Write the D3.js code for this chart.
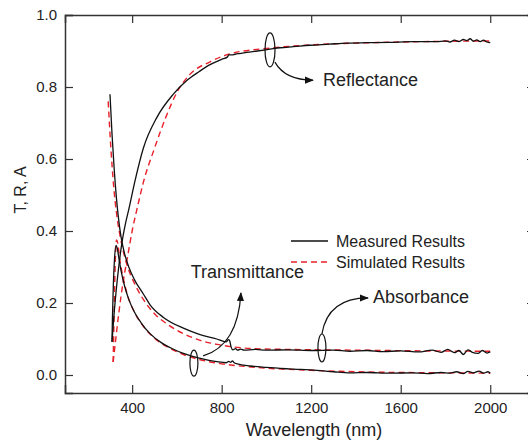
<!DOCTYPE html>
<html>
<head>
<meta charset="utf-8">
<script src="https://cdn.jsdelivr.net/npm/d3@7/dist/d3.min.js"></script>
<style>
  body { margin: 0; background: #fff; }
  text { font-family: "Liberation Sans", Arial, sans-serif; fill: #222; }
</style>
</head>
<body>
<script>
// wavelength (nm), value
var measR = [[310,0.092],[318,0.16],[328,0.23],[340,0.30],[355,0.37],[370,0.42],[385,0.46],[413,0.54],[450,0.63],[510,0.715],[584,0.78],[644,0.818],[700,0.843],[748,0.862],[800,0.877],[825,0.883],[832,0.889],[845,0.889],[860,0.891],[880,0.893],[912,0.896],[960,0.900],[1016,0.905],[1061,0.909],[1120,0.912],[1195,0.916],[1280,0.919],[1359,0.922],[1450,0.923],[1550,0.924],[1655,0.926],[1760,0.926],[1800,0.928],[1820,0.925],[1840,0.930],[1860,0.926],[1880,0.932],[1895,0.929],[1910,0.934],[1925,0.927],[1940,0.931],[1955,0.926],[1970,0.930],[1985,0.925],[2000,0.923]];
var measT = [[310,0.092],[312,0.16],[316,0.25],[321,0.32],[328,0.36],[334,0.35],[342,0.32],[352,0.285],[365,0.25],[385,0.21],[410,0.175],[440,0.145],[480,0.115],[530,0.09],[580,0.073],[629,0.06],[700,0.047],[778,0.037],[820,0.034],[832,0.038],[840,0.035],[848,0.039],[856,0.034],[870,0.031],[927,0.025],[1000,0.021],[1100,0.017],[1225,0.013],[1300,0.009],[1374,0.006],[1450,0.007],[1550,0.005],[1650,0.006],[1720,0.004],[1780,0.007],[1820,0.005],[1850,0.009],[1880,0.004],[1900,0.010],[1925,0.006],[1950,0.011],[1970,0.005],[1990,0.009],[2000,0.005]];
var measA = [[301,0.78],[310,0.67],[320,0.57],[330,0.49],[340,0.43],[350,0.385],[365,0.34],[385,0.30],[410,0.265],[450,0.225],[480,0.195],[540,0.16],[629,0.13],[700,0.113],[778,0.10],[820,0.092],[830,0.098],[836,0.095],[842,0.078],[850,0.070],[862,0.073],[872,0.069],[885,0.072],[900,0.069],[950,0.071],[1000,0.069],[1100,0.070],[1200,0.068],[1300,0.069],[1374,0.066],[1450,0.068],[1520,0.065],[1600,0.067],[1680,0.064],[1740,0.069],[1780,0.063],[1810,0.071],[1840,0.062],[1860,0.068],[1880,0.057],[1900,0.070],[1920,0.063],[1945,0.060],[1965,0.068],[1985,0.061],[2000,0.064]];
var simR = [[315,0.036],[325,0.09],[340,0.17],[360,0.26],[380,0.33],[400,0.40],[425,0.47],[450,0.535],[500,0.63],[550,0.715],[600,0.785],[658,0.835],[748,0.870],[837,0.892],[1016,0.908],[1200,0.917],[1400,0.922],[1600,0.925],[1800,0.927],[2000,0.928]];
var simT = [[315,0.036],[318,0.12],[321,0.22],[325,0.32],[330,0.375],[336,0.365],[345,0.32],[360,0.27],[380,0.22],[410,0.175],[450,0.135],[500,0.102],[560,0.077],[629,0.057],[700,0.043],[800,0.031],[900,0.024],[1000,0.019],[1200,0.013],[1400,0.009],[1600,0.007],[1800,0.006],[2000,0.005]];
var simA = [[293,0.76],[305,0.63],[318,0.52],[330,0.45],[345,0.39],[360,0.345],[380,0.30],[410,0.255],[450,0.21],[500,0.17],[560,0.14],[629,0.115],[700,0.097],[780,0.085],[850,0.078],[950,0.073],[1100,0.071],[1400,0.069],[1700,0.067],[2000,0.066]];

var xTicks = [400, 800, 1200, 1600, 2000];
var yTicks = [0, 0.2, 0.4, 0.6, 0.8, 1.0];

var w = 528, h = 441;
var svg = d3.select("body").append("svg").attr("width", w).attr("height", h);

var x = d3.scaleLinear().domain([100, 2200]).range([65, 535]);
var y = d3.scaleLinear().domain([-0.05, 1.0]).range([393, 15]);

var frame = "#333";

// axes, ticks pointing inward
svg.append("g").attr("transform", "translate(0,393)")
    .call(d3.axisBottom(x).tickValues(xTicks).tickSize(-8).tickPadding(9).tickFormat(d3.format("d")));
svg.append("g").attr("transform", "translate(0,15)")
    .call(d3.axisTop(x).tickValues(xTicks).tickSize(-8).tickFormat(""));
svg.append("g").attr("transform", "translate(65,0)")
    .call(d3.axisLeft(y).tickValues(yTicks).tickSize(-8).tickPadding(8).tickFormat(d3.format(".1f")));
svg.append("g").attr("transform", "translate(535,0)")
    .call(d3.axisRight(y).tickValues(yTicks).tickSize(-8).tickFormat(""));

svg.selectAll(".domain").attr("stroke", frame).attr("stroke-width", 1.5);
svg.selectAll(".tick line").attr("stroke", frame).attr("stroke-width", 1.2);
svg.selectAll(".tick text").style("font-size", "15px").attr("fill", "#222");

// axis titles
svg.append("text").attr("x", 314).attr("y", 436).attr("text-anchor", "middle")
    .style("font-size", "18px").text("Wavelength (nm)");
svg.append("text").attr("transform", "translate(26,190) rotate(-90)").attr("text-anchor", "middle")
    .style("font-size", "16px").text("T, R, A");

var line = d3.line().x(function(d) { return x(d[0]); }).y(function(d) { return y(d[1]); })
    .curve(d3.curveMonotoneX);

[simR, simT, simA].forEach(function(s) {
    svg.append("path").datum(s).attr("d", line).attr("fill", "none")
        .attr("stroke", "#e8202a").attr("stroke-width", 1.4).attr("stroke-dasharray", "6,4");
});
[measR, measT, measA].forEach(function(s) {
    svg.append("path").datum(s).attr("d", line).attr("fill", "none")
        .attr("stroke", "#111").attr("stroke-width", 1.3);
});

// legend
var leg = svg.append("g");
leg.append("line").attr("x1", 291).attr("x2", 328).attr("y1", 241).attr("y2", 241)
    .attr("stroke", "#111").attr("stroke-width", 1.3);
leg.append("text").attr("x", 336).attr("y", 241).attr("dy", "0.35em").style("font-size", "16px").text("Measured Results");
leg.append("line").attr("x1", 291).attr("x2", 328).attr("y1", 262).attr("y2", 262)
    .attr("stroke", "#e8202a").attr("stroke-width", 1.4).attr("stroke-dasharray", "6,4");
leg.append("text").attr("x", 336).attr("y", 262).attr("dy", "0.35em").style("font-size", "16px").text("Simulated Results");

// annotations (positions in data units)
svg.append("defs").append("marker").attr("id", "ah").attr("viewBox", "0 0 10 10")
    .attr("refX", 9).attr("refY", 5).attr("markerWidth", 9).attr("markerHeight", 9)
    .attr("orient", "auto").attr("markerUnits", "userSpaceOnUse")
    .append("path").attr("d", "M0,1 L10,5 L0,9 Z").attr("fill", "#111");

var notes = [
    { label: "Reflectance", ell: [1016, 0.903], rx: 5, ry: 17,
      path: [[1038, 0.869], [1083, 0.819], [1208, 0.819]], text: [1253, 0.819] },
    { label: "Transmittance", ell: [676, 0.033], rx: 4, ry: 13,
      path: [[717, 0.053], [873, 0.083], [886, 0.228]], text: [915, 0.286], anchor: "middle" },
    { label: "Absorbance", ell: [1248, 0.075], rx: 4, ry: 14,
      path: [[1248, 0.114], [1275, 0.214], [1454, 0.214]], text: [1476, 0.217] }
];
notes.forEach(function(n) {
    svg.append("ellipse").attr("cx", x(n.ell[0])).attr("cy", y(n.ell[1]))
        .attr("rx", n.rx).attr("ry", n.ry).attr("fill", "none").attr("stroke", "#111").attr("stroke-width", 1.2);
    var p = n.path;
    svg.append("path")
        .attr("d", "M" + x(p[0][0]) + "," + y(p[0][1]) + " Q" + x(p[1][0]) + "," + y(p[1][1]) + " " + x(p[2][0]) + "," + y(p[2][1]))
        .attr("fill", "none").attr("stroke", "#111").attr("stroke-width", 1.2).attr("marker-end", "url(#ah)");
    svg.append("text").attr("x", x(n.text[0])).attr("y", y(n.text[1])).attr("dy", "0.35em")
        .attr("text-anchor", n.anchor || "start").style("font-size", "18px").text(n.label);
});
</script>
</body>
</html>
